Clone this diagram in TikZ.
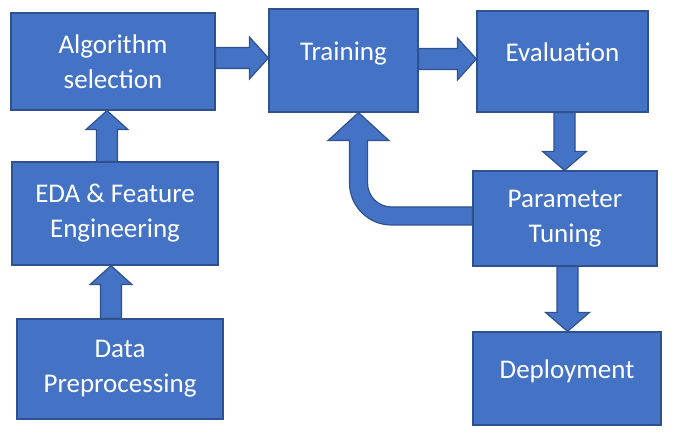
\documentclass[tikz,border=0pt]{standalone}
\usepackage{fontspec}
\setmainfont{Carlito}
\usepackage{xcolor}
\usepackage{tikz}
\usetikzlibrary{calc}
\definecolor{boxblue}{HTML}{4472C4}
\definecolor{edgeblue}{HTML}{2F528F}

\begin{document}
\begin{tikzpicture}[x=1pt, y=1pt,
  stage/.style={draw=edgeblue, fill=boxblue, line width=1.2pt, text=white, font=\fontsize{27}{35}\selectfont, align=center, inner sep=0pt},
  oneline/.style={text height=20pt, text depth=20pt},
  blockarrow/.style={draw=edgeblue, fill=boxblue, line width=1.2pt, line join=miter},
  rightblock/.style={blockarrow, to path={let \p1=(\tikztostart), \p2=(\tikztotarget) in (\x1,\y1+10.5) -- (\x2-19,\y1+10.5) -- (\x2-19,\y1+21) -- (\x2,\y1) -- (\x2-19,\y1-21) -- (\x2-19,\y1-10.5) -- (\x1,\y1-10.5) -- cycle}},
  downblock/.style={blockarrow, to path={let \p1=(\tikztostart), \p2=(\tikztotarget) in (\x1+10.5,\y1) -- (\x1+10.5,\y2+19) -- (\x1+22,\y2+19) -- (\x1,\y2) -- (\x1-22,\y2+19) -- (\x1-10.5,\y2+19) -- (\x1-10.5,\y1) -- cycle}},
  upblock/.style={blockarrow, to path={let \p1=(\tikztostart), \p2=(\tikztotarget) in (\x1+10.5,\y1) -- (\x1+10.5,\y2-19) -- (\x1+21,\y2-19) -- (\x1,\y2) -- (\x1-21,\y2-19) -- (\x1-10.5,\y2-19) -- (\x1-10.5,\y1) -- cycle}}]
  \useasboundingbox (0,0) rectangle (674,438);
  \node[stage, minimum width=204pt, minimum height=97pt] (algo) at (113,376.5) {Algorithm\\selection};
  \node[stage, oneline, minimum width=149pt, minimum height=103pt] (train) at (343.5,377.5) {Training};
  \node[stage, oneline, minimum width=171pt, minimum height=101pt] (eval) at (562.5,376.5) {Evaluation};
  \node[stage, minimum width=184pt, minimum height=95pt] (param) at (565,219.5) {Parameter\\Tuning};
  \node[stage, oneline, minimum width=188pt, minimum height=93pt] (deploy) at (567,59.5) {Deployment};
  \node[stage, minimum width=206pt, minimum height=103pt] (eda) at (115,224.5) {EDA \& Feature\\Engineering};
  \node[stage, minimum width=206pt, minimum height=100pt] (data) at (120,69) {Data\\Preprocessing};
  \draw[rightblock] ([yshift=3.5]algo.east) to (train.west);
  \draw[rightblock] ([yshift=1.5]train.east) to (eval.west);
  \draw[downblock] ([xshift=2]eval.south) to (param.north);
  \draw[downblock] ([xshift=2.5]param.south) to (deploy.north);
  \draw[upblock] ([xshift=-8]eda.north) to (algo.south);
  \draw[upblock] ([xshift=-9]data.north) to (eda.south);
  \draw[blockarrow] let \p1=([yshift=2.5]param.west), \p2=([xshift=15]train.south) in (\x1,\y1-9) -- (\x2+33,\y1-9) arc[start angle=270, end angle=180, radius=42] -- (\x2-9,\y2-28) -- (\x2-30.5,\y2-28) -- (\x2,\y2) -- (\x2+30.5,\y2-28) -- (\x2+9,\y2-28) -- (\x2+9,\y1+33) arc[start angle=180, end angle=270, radius=24] -- (\x1,\y1+9) -- cycle;
\end{tikzpicture}
\end{document}
